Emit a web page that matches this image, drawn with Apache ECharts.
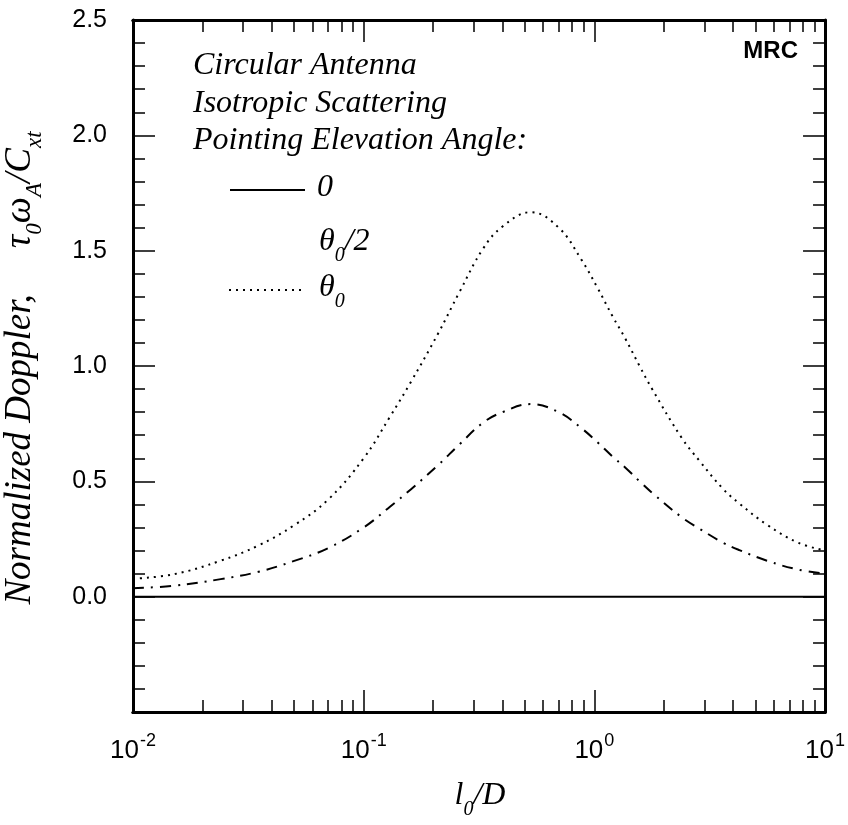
<!DOCTYPE html>
<html>
<head>
<meta charset="utf-8">
<script src="https://cdn.jsdelivr.net/npm/echarts@6/dist/echarts.min.js"></script>
<style>
  html, body { margin: 0; padding: 0; background: #fff; }
  #main { width: 848px; height: 825px; }
</style>
</head>
<body>
<div id="main"></div>
<script>
// l0/D values
var xVals = [0.01, 0.015, 0.024, 0.035, 0.05, 0.07, 0.1, 0.13, 0.16, 0.21, 0.26, 0.33, 0.4, 0.53,
    0.7, 0.88, 1.03, 1.2, 1.36, 1.57, 1.78, 2.4, 2.85, 3.6, 4.25, 5.6, 7.6, 10];
// pointing angle theta0 (dotted)
var fullAngle = [0.078, 0.097, 0.156, 0.222, 0.31, 0.42, 0.60, 0.78, 0.93, 1.14, 1.32, 1.51, 1.605, 1.667,
    1.60, 1.46, 1.34, 1.215, 1.12, 1.0, 0.90, 0.686, 0.59, 0.469, 0.404, 0.312, 0.235, 0.20];
// pointing angle theta0/2 (dash-dot)
var halfAngle = [0.037, 0.047, 0.076, 0.108, 0.155, 0.21, 0.30, 0.39, 0.465, 0.57, 0.66, 0.755, 0.80, 0.835,
    0.80, 0.73, 0.67, 0.607, 0.56, 0.50, 0.45, 0.343, 0.295, 0.235, 0.202, 0.156, 0.118, 0.10];
// pointing angle 0 (solid)
var zeroX = [0.01, 10];
var zeroAngle = [0, 0];

var xMajor = [0.01, 0.1, 1, 10];
var xMinor = [0.02, 0.03, 0.04, 0.05, 0.06, 0.07, 0.08, 0.09,
    0.2, 0.3, 0.4, 0.5, 0.6, 0.7, 0.8, 0.9,
    2, 3, 4, 5, 6, 7, 8, 9];

function pairs(xs, ys) {
    var out = [];
    for (var i = 0; i < xs.length; i++) out.push([xs[i], ys[i]]);
    return out;
}

var serif = '"Liberation Serif", "DejaVu Serif", serif';
var sans = '"Liberation Sans", Arial, sans-serif';

// rich styles for italic text with subscripts
function subRich(size, subSize, drop) {
    return {
        i: { font: 'italic ' + size + 'px ' + serif, fill: '#000', lineHeight: size + 8, verticalAlign: 'top' },
        s: { font: 'italic ' + subSize + 'px ' + serif, fill: '#000', lineHeight: size + 8, verticalAlign: 'bottom', padding: [drop, 0, 0, 0] }
    };
}

// log axis builder, used for the major + minor ticks top and bottom
function logAxis(pos, ticks, len, labels) {
    return {
        type: 'log', logBase: 10, min: 0.01, max: 10, position: pos,
        axisLine: { show: true, onZero: false, lineStyle: { color: '#000', width: 3 } },
        axisTick: { show: true, inside: true, length: len, customValues: ticks, lineStyle: { color: '#000', width: 1.5 } },
        axisLabel: labels ? {
            show: true, customValues: xMajor, margin: 20,
            formatter: function (v) {
                var e = Math.round(Math.log(v) / Math.LN10);
                return '{b|10}{s|' + e + '}';
            },
            rich: {
                b: { fontFamily: sans, fontSize: 26, color: '#000', lineHeight: 32, verticalAlign: 'bottom' },
                s: { fontFamily: sans, fontSize: 18, color: '#000', lineHeight: 32, verticalAlign: 'top', padding: [0, 0, 12, 1] }
            }
        } : { show: false },
        splitLine: { show: false },
        minorTick: { show: false }
    };
}

function valAxis(pos, labels) {
    return {
        type: 'value', min: -0.5, max: 2.5, interval: 0.5, position: pos,
        axisLine: { show: true, onZero: false, lineStyle: { color: '#000', width: 3 } },
        axisTick: { show: true, inside: true, length: 22, lineStyle: { color: '#000', width: 1.5 } },
        minorTick: { show: true, splitNumber: 5, length: 12, lineStyle: { color: '#000', width: 1.5 } },
        axisLabel: labels ? {
            show: true, margin: 26, fontFamily: sans, fontSize: 25, color: '#000',
            formatter: function (v) { return v < -0.01 ? '' : v.toFixed(1); }
        } : { show: false },
        splitLine: { show: false }
    };
}

var myChart = echarts.init(document.getElementById('main'));

var option = {
    backgroundColor: '#fff',
    animation: false,
    grid: { left: 133, right: 22, top: 20, bottom: 113 },
    xAxis: [
        logAxis('bottom', xMajor, 22, true),
        logAxis('bottom', xMinor, 12, false),
        logAxis('top', xMajor, 22, false),
        logAxis('top', xMinor, 12, false)
    ],
    yAxis: [
        valAxis('left', true),
        valAxis('right', false)
    ],
    series: [
        {
            name: '0', type: 'line', data: pairs(zeroX, zeroAngle), showSymbol: false,
            lineStyle: { color: '#000', width: 2, type: 'solid' }
        },
        {
            name: 'θ0/2', type: 'line', data: pairs(xVals, halfAngle), showSymbol: false, smooth: 0.4,
            lineStyle: { color: '#000', width: 2, type: [11, 7, 2, 7] }
        },
        {
            name: 'θ0', type: 'line', data: pairs(xVals, fullAngle), showSymbol: false, smooth: 0.4,
            lineStyle: { color: '#000', width: 2, type: [2, 5] }
        }
    ],
    graphic: [
        // annotation block
        { type: 'text', left: 193, top: 50, style: { text: 'Circular Antenna', font: 'italic 32px ' + serif, fill: '#000' } },
        { type: 'text', left: 193, top: 88, style: { text: 'Isotropic Scattering', font: 'italic 32px ' + serif, fill: '#000' } },
        { type: 'text', left: 193, top: 125, style: { text: 'Pointing Elevation Angle:', font: 'italic 32px ' + serif, fill: '#000' } },
        // legend samples
        { type: 'line', shape: { x1: 230, y1: 190, x2: 305, y2: 190 }, style: { stroke: '#000', lineWidth: 2 } },
        { type: 'line', shape: { x1: 229, y1: 290, x2: 304, y2: 290 }, style: { stroke: '#000', lineWidth: 2, lineDash: [2, 5] } },
        { type: 'text', left: 317, top: 172, style: { text: '0', font: 'italic 32px ' + serif, fill: '#000' } },
        { type: 'text', left: 319, top: 226, style: { text: '{i|θ}{s|0}{i|/2}', rich: subRich(32, 20, 14) } },
        { type: 'text', left: 319, top: 272, style: { text: '{i|θ}{s|0}', rich: subRich(32, 20, 14) } },
        { type: 'text', right: 50, top: 39, style: { text: 'MRC', font: 'bold 24px ' + sans, fill: '#000' } },
        // y axis title
        {
            type: 'text', x: 24, y: 368, rotation: Math.PI / 2, style: {
                text: '{i|Normalized Doppler,     τ}{s|0}{i|ω}{s|A}{i|/C}{s|xt}',
                align: 'center', verticalAlign: 'middle',
                rich: subRich(37, 23, 16)
            }
        },
        // x axis title
        {
            type: 'text', x: 480, y: 800, style: {
                text: '{i|l}{s|0}{i|/D}',
                align: 'center', verticalAlign: 'middle',
                rich: subRich(32, 20, 14)
            }
        }
    ]
};

myChart.setOption(option);
</script>
</body>
</html>
